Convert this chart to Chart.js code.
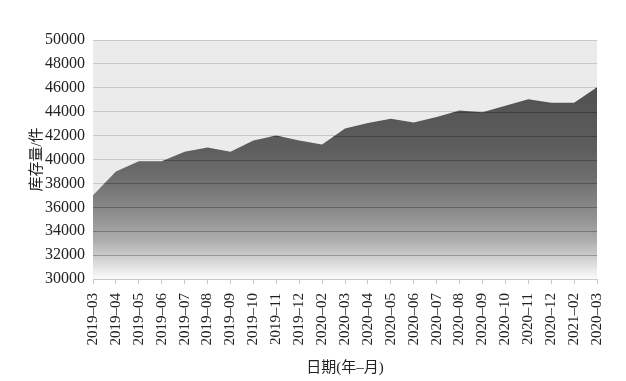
<!DOCTYPE html>
<html>
<head>
<meta charset="utf-8">
<script src="https://cdn.jsdelivr.net/npm/chart.js@4"></script>
<style>
  html, body { margin: 0; padding: 0; background: #fff; }
  #wrap { width: 626px; height: 381px; }
</style>
</head>
<body>
<div id="wrap"><canvas id="stockChart" width="626" height="381"></canvas></div>
<script>
// DATA
const dates = ['2019–03', '2019–04', '2019–05', '2019–06', '2019–07', '2019–08', '2019–09', '2019–10',
  '2019–11', '2019–12', '2020–02', '2020–03', '2020–04', '2020–05', '2020–06', '2020–07',
  '2020–08', '2020–09', '2020–10', '2020–11', '2020–12', '2021–02', '2020–03'];
const stock = [37000, 39000, 39850, 39850, 40650, 41000, 40650, 41600, 42000, 41600, 41250, 42600,
  43050, 43400, 43100, 43550, 44100, 43950, 44500, 45050, 44750, 44750, 46050];
const yMin = 30000;
const yMax = 50000;
const yStep = 2000;

const serif = '"Liberation Serif", "Times New Roman", serif';
const cjk = '"Liberation Serif", "Noto Sans CJK SC", serif';

// light grey plot background
const plotBackground = {
  id: 'plotBackground',
  beforeDraw(chart) {
    const { ctx, chartArea: a } = chart;
    ctx.save();
    ctx.fillStyle = '#ebebeb';
    ctx.fillRect(a.left, a.top, a.right - a.left, a.bottom - a.top);
    ctx.restore();
  }
};

// darker grid lines where they cross the filled area
const gridOverArea = {
  id: 'gridOverArea',
  afterDatasetsDraw(chart) {
    const { ctx, chartArea: a } = chart;
    const pts = chart.getDatasetMeta(0).data;
    const y = chart.scales.y;
    ctx.save();
    ctx.beginPath();
    ctx.moveTo(pts[0].x, a.bottom);
    pts.forEach(p => ctx.lineTo(p.x, p.y));
    ctx.lineTo(pts[pts.length - 1].x, a.bottom);
    ctx.closePath();
    ctx.clip();
    ctx.strokeStyle = 'rgba(0,0,0,0.27)';
    ctx.lineWidth = 1;
    y.ticks.forEach(t => {
      const py = Math.round(y.getPixelForValue(t.value)) + 0.5;
      ctx.beginPath();
      ctx.moveTo(a.left, py);
      ctx.lineTo(a.right, py);
      ctx.stroke();
    });
    ctx.restore();
  }
};

function areaGradient(context) {
  const chart = context.chart;
  const a = chart.chartArea;
  if (!a) return '#666';
  const y = chart.scales.y;
  const g = chart.ctx.createLinearGradient(0, y.getPixelForValue(48000), 0, a.bottom);
  g.addColorStop(0, '#4c4c4c');
  g.addColorStop(0.4, '#5e5e5e');
  g.addColorStop(0.55, '#717171');
  g.addColorStop(0.7, '#8e8e8e');
  g.addColorStop(0.82, '#adadad');
  g.addColorStop(0.92, '#d8d8d8');
  g.addColorStop(1, '#fbfbfb');
  return g;
}

const ctx = document.getElementById('stockChart').getContext('2d');
new Chart(ctx, {
  type: 'line',
  data: {
    labels: dates,
    datasets: [{
      data: stock,
      fill: 'start',
      backgroundColor: areaGradient,
      borderWidth: 0,
      pointRadius: 0,
      tension: 0
    }]
  },
  options: {
    responsive: false,
    animation: false,
    events: [],
    layout: { padding: { left: 24, right: 29, top: 40, bottom: 0 } },
    plugins: {
      legend: { display: false },
      tooltip: { enabled: false }
    },
    scales: {
      x: {
        offset: false,
        grid: { display: true, drawOnChartArea: false, color: '#c8c8c8', tickLength: 5 },
        border: { display: true, color: '#c8c8c8' },
        ticks: {
          autoSkip: false, minRotation: 90, maxRotation: 90, padding: 9,
          color: '#222', font: { family: serif, size: 15 }
        },
        title: {
          display: true, text: '日期(年–月)', color: '#222',
          font: { family: cjk, size: 15 }, padding: { top: 4, bottom: 4 }
        },
        afterFit(scale) { scale.height = 102; }
      },
      y: {
        min: yMin,
        max: yMax,
        grid: { color: '#c8c8c8', drawTicks: false },
        border: { display: false },
        ticks: {
          stepSize: yStep, padding: 8, color: '#222',
          font: { family: serif, size: 16 },
          callback: v => String(v)
        },
        title: {
          display: true, text: '库存量/件', color: '#222',
          font: { family: cjk, size: 15 }, padding: { top: 4, bottom: 4 }
        },
        afterFit(scale) { scale.width = 69; }
      }
    }
  },
  plugins: [plotBackground, gridOverArea]
});
</script>
</body>
</html>
